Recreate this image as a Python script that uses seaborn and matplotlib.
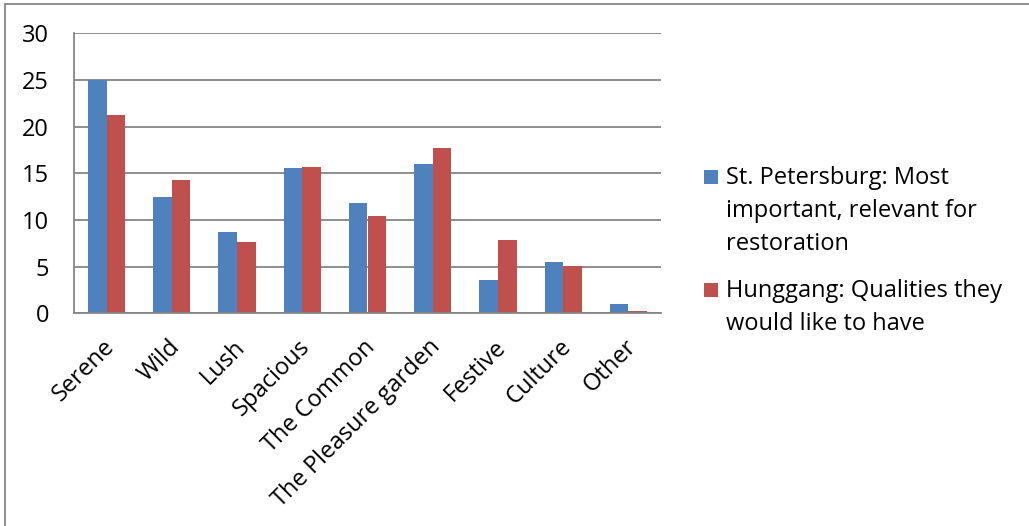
import matplotlib
matplotlib.use('Agg')
import numpy as np
import pandas as pd
import matplotlib.pyplot as plt
import matplotlib.transforms as mtransforms
import seaborn as sns
from matplotlib.patches import Rectangle

# values
categories = ['Serene', 'Wild', 'Lush', 'Spacious', 'The Common',
              'The Pleasure garden', 'Festive', 'Culture', 'Other']
st_petersburg = [25.0, 12.5, 8.7, 15.6, 11.8, 16.0, 3.6, 5.5, 1.0]
hunggang = [21.2, 14.3, 7.6, 15.7, 10.4, 17.7, 7.8, 5.1, 0.2]
series_names = ['St. Petersburg: Most\nimportant, relevant for\nrestoration',
                'Hunggang: Qualities they\nwould like to have']
colors = ['#4F81BD', '#C0504D']

df = pd.DataFrame({
    'quality': categories * 2,
    'value': st_petersburg + hunggang,
    'series': [series_names[0]] * len(categories) + [series_names[1]] * len(categories),
})

sns.set_style('white')
plt.rcParams['font.family'] = ['Open Sans', 'DejaVu Sans']
grey = '#868686'
fs = 17

W, H = 1029, 526
fig = plt.figure(figsize=(W / 100, H / 100), dpi=100)
ax = fig.add_axes([74 / W, 1 - 313.3 / H, (661 - 74) / W, (313.3 - 33.3) / H])

sns.barplot(data=df, x='quality', y='value', hue='series', hue_order=series_names,
            palette=colors, saturation=1, width=0.571, gap=0, linewidth=0,
            errorbar=None, legend=False, ax=ax)

ax.set_xlim(-0.5, len(categories) - 0.5)
ax.set_ylim(0, 30)
ax.set_yticks(range(0, 31, 5))
ax.set_xlabel('')
ax.set_ylabel('')
ax.yaxis.grid(True, color=grey, lw=1.3)
ax.set_axisbelow(True)
for s in ['top', 'right']:
    ax.spines[s].set_visible(False)
for s in ['left', 'bottom']:
    ax.spines[s].set_color(grey)
    ax.spines[s].set_linewidth(1.3)

ax.tick_params(axis='y', length=6, width=1.3, color=grey, pad=12, labelsize=fs,
               labelcolor='black')
ax.set_xticks(np.arange(-0.5, len(categories), 1), minor=True)
ax.tick_params(axis='x', which='minor', length=6, width=1.3, color=grey)
ax.tick_params(axis='x', which='major', length=0, pad=10, labelsize=fs,
               labelcolor='black')
# rotated category labels, nudged a little left and down
shift = mtransforms.ScaledTranslation(-4 / 100, -8 / 100, fig.dpi_scale_trans)
for lab in ax.get_xticklabels():
    lab.set_rotation(45)
    lab.set_ha('right')
    lab.set_rotation_mode('anchor')
    lab.set_transform(lab.get_transform() + shift)

# legend with the square beside the first line of each label
legend_tops = [168, 281]
for name, col, top in zip(series_names, colors, legend_tops):
    fig.add_artist(Rectangle((704 / W, 1 - (top + 16) / H), 14 / W, 14 / H,
                             transform=fig.transFigure, color=col, lw=0))
    fig.text(726 / W, 1 - (top - 2) / H, name, ha='left', va='top',
             fontsize=fs, linespacing=1.5, color='black')

# outer frame
fig.add_artist(Rectangle((5 / W, -0.05), 1.2, 1 - 4 / H + 0.05,
                         transform=fig.transFigure, fill=False,
                         edgecolor=grey, lw=1.3))

fig.savefig('out.png', dpi=100)
